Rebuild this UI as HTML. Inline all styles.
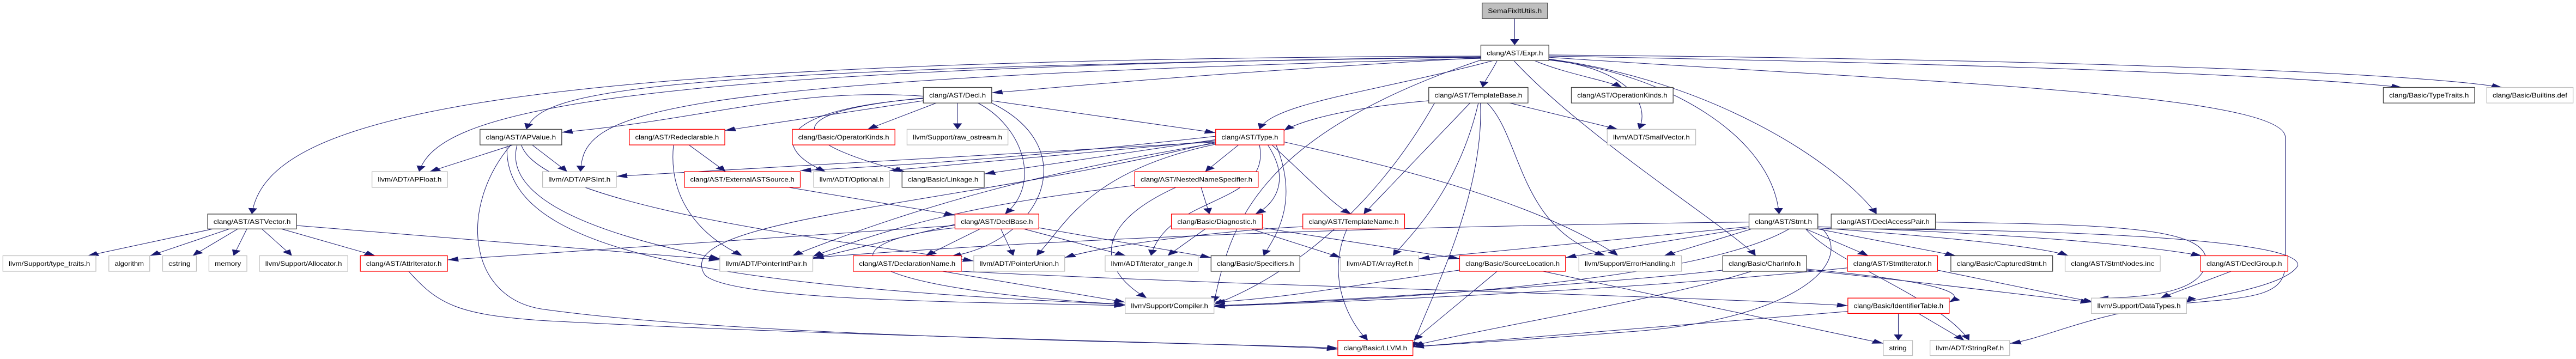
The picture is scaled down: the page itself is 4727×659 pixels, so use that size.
<!DOCTYPE html>
<html><head><meta charset="utf-8"><style>
html,body{margin:0;padding:0;background:#fff;}
svg{display:block;}
text{font-family:"Liberation Sans",Arial,sans-serif;font-size:28px;fill:#000;}
.n{fill:#fff;stroke-width:1.3;vector-effect:non-scaling-stroke;}
.k{stroke:#404040;} .r{stroke:#ff0000;} .g{stroke:#bfbfbf;}
.e path{fill:none;stroke:#191970;stroke-width:1;vector-effect:non-scaling-stroke;marker-end:url(#a);}
</style></head><body>
<svg width="4727" height="659" viewBox="0 0 6177 1568" preserveAspectRatio="none" xmlns="http://www.w3.org/2000/svg">
<defs><marker id="a" markerUnits="userSpaceOnUse" markerWidth="26" markerHeight="22" refX="24" refY="10" viewBox="0 0 24 20" orient="auto"><path d="M0,0 L24,10 L0,20 z" fill="#191970"/></marker></defs>
<g class="e">
<path d="M3632 81 L3632 197"/>
<path d="M3551 245 C1200 260 640 500 604 935"/>
<path d="M3551 250 C1500 300 1300 400 1262 565"/>
<path d="M3551 248 C1400 300 1050 500 1005 750"/>
<path d="M3551 255 C1500 350 1400 500 1392 750"/>
<path d="M3551 252 C2800 330 2500 390 2378 405"/>
<path d="M3590 265 C3575 320 3560 350 3555 382"/>
<path d="M3680 265 C3750 320 3850 350 3890 382"/>
<path d="M3714 260 C3900 300 3960 450 3930 565"/>
<path d="M3580 265 C3300 400 3050 450 3020 565"/>
<path d="M3714 262 C4000 320 4250 600 4266 935"/>
<path d="M3714 258 C4100 350 4400 700 4500 935"/>
<path d="M3714 245 C4800 280 5500 330 5760 382"/>
<path d="M3714 240 C5000 260 5800 320 6000 382"/>
<path d="M3630 265 C3800 600 4150 1000 4210 1117"/>
<path d="M3714 250 C4500 350 5480 400 5480 600 L5480 1150 C5480 1300 5400 1300 5200 1330 C5000 1380 4900 1480 4820 1500"/>
<path d="M3551 262 C3000 600 2950 1000 2911 1320"/>
<path d="M1230 633 L1030 750"/>
<path d="M1276 633 L1360 750"/>
<path d="M1240 633 C1200 900 1500 1050 1726 1130"/>
<path d="M1250 633 C1300 900 2000 1050 2335 1140"/>
<path d="M1225 633 C1100 900 1120 1300 1300 1350 C1800 1480 3000 1500 3208 1520"/>
<path d="M1216 633 C1200 1100 1700 1250 2698 1330"/>
<path d="M510 1000 L210 1117"/>
<path d="M550 1000 L360 1117"/>
<path d="M570 1000 L462 1117"/>
<path d="M592 1000 L560 1117"/>
<path d="M628 1000 L700 1117"/>
<path d="M675 1000 L900 1117"/>
<path d="M711 985 L1726 1135"/>
<path d="M980 1185 C1050 1330 1100 1375 1300 1400 C2000 1470 3000 1500 3208 1525"/>
<path d="M2214 440 L1738 570"/>
<path d="M2245 450 L2080 565"/>
<path d="M2296 450 L2296 565"/>
<path d="M2378 440 L2915 580"/>
<path d="M2214 430 C1850 480 1850 650 1980 750"/>
<path d="M2214 428 C1800 500 1950 650 2170 750"/>
<path d="M2345 450 C2450 550 2500 800 2410 935"/>
<path d="M2378 450 C2600 650 2500 1050 2280 1120"/>
<path d="M2214 420 C1900 380 1700 520 1347 578"/>
<path d="M1652 633 L1740 750"/>
<path d="M1615 633 C1600 900 1700 1050 1780 1117"/>
<path d="M1890 818 L2290 940"/>
<path d="M2290 980 L1949 1130"/>
<path d="M2350 1000 L2220 1117"/>
<path d="M2400 1000 L2430 1117"/>
<path d="M2455 1000 L2700 1117"/>
<path d="M2491 995 L2904 1125"/>
<path d="M2290 995 C2000 1050 1950 1250 2698 1330"/>
<path d="M2290 985 L1073 1135"/>
<path d="M2915 610 L2360 760"/>
<path d="M2915 615 L2133 745"/>
<path d="M2915 595 C2500 680 2200 720 1919 745"/>
<path d="M2915 620 L1478 770"/>
<path d="M2970 633 L2890 750"/>
<path d="M3040 633 C3100 800 3050 900 3010 935"/>
<path d="M3050 633 C3150 800 3200 900 3240 935"/>
<path d="M3060 633 C3120 900 3050 1050 3030 1117"/>
<path d="M3020 633 C3050 900 2800 850 2760 1117"/>
<path d="M2915 625 C2500 750 2200 900 1900 1117"/>
<path d="M2915 630 C2600 750 2550 1000 2485 1117"/>
<path d="M2915 620 C2300 900 1600 950 1690 1200 C1750 1320 2400 1320 2698 1335"/>
<path d="M3079 620 C3400 750 3700 900 3880 1117"/>
<path d="M2880 818 L2900 935"/>
<path d="M2820 818 C2600 1000 2650 1200 2750 1302"/>
<path d="M2721 810 C2400 880 2200 950 1949 1120"/>
<path d="M2890 1000 L2800 1117"/>
<path d="M3027 995 L3500 1130"/>
<path d="M3000 1000 L3215 1125"/>
<path d="M3124 990 C3000 1000 2700 1050 2553 1125"/>
<path d="M3230 1000 C3180 1200 3230 1400 3280 1487"/>
<path d="M3426 440 C3300 460 3150 500 3079 570"/>
<path d="M3525 450 L3270 935"/>
<path d="M3545 450 C3500 800 3400 1000 3340 1117"/>
<path d="M3566 450 C3650 600 3640 1000 3850 1117"/>
<path d="M3620 450 L3880 565"/>
<path d="M3550 450 C3560 900 3400 1400 3388 1520"/>
<path d="M3440 450 C3300 900 3100 1200 2911 1330"/>
<path d="M4194 990 L3402 1130"/>
<path d="M4194 995 L3754 1125"/>
<path d="M4200 1000 L3990 1117"/>
<path d="M4330 1000 L4480 1117"/>
<path d="M4359 1000 L4690 1117"/>
<path d="M4359 995 C4700 1040 4900 1080 4960 1117"/>
<path d="M4359 990 C4800 1020 5100 1060 5280 1117"/>
<path d="M4359 1000 C5000 1000 5520 1050 5510 1160 C5480 1260 5250 1310 5243 1320"/>
<path d="M4290 1000 C4100 1200 3500 1300 2911 1335"/>
<path d="M4370 1000 C4450 1150 4300 1400 3900 1450 C3700 1480 3500 1500 3388 1515"/>
<path d="M4194 970 C3200 990 2500 1050 1949 1125"/>
<path d="M4330 1000 C4400 1150 4650 1300 4722 1487"/>
<path d="M4641 970 C5100 980 5300 1000 5290 1150 C5280 1250 5200 1300 5030 1302"/>
<path d="M4131 1180 C3800 1250 3100 1320 2911 1340"/>
<path d="M4200 1185 C4000 1300 3600 1420 3388 1510"/>
<path d="M4332 1180 C4700 1250 4900 1300 5015 1320"/>
<path d="M4332 1175 C4650 1230 4720 1280 4674 1320"/>
<path d="M3500 1180 C3300 1230 3100 1300 2911 1320"/>
<path d="M3590 1185 L3390 1487"/>
<path d="M3700 1185 L4516 1500"/>
<path d="M4646 1180 L5020 1320"/>
<path d="M4430 1170 C4000 1250 3500 1300 2911 1338"/>
<path d="M5350 1185 L5180 1302"/>
<path d="M4552 1369 L4552 1487"/>
<path d="M4600 1369 L4710 1487"/>
<path d="M4431 1360 C4000 1420 3600 1480 3388 1515"/>
<path d="M2260 1185 L2698 1320"/>
<path d="M2305 1185 C3000 1250 4000 1290 4431 1335"/>
</g>
<g>
<rect class="n k" x="3554" y="13" width="157" height="68" style="fill:#bfbfbf"/><text x="3568" y="57" textLength="129" lengthAdjust="spacingAndGlyphs">SemaFixItUtils.h</text>
<rect class="n k" x="3551" y="197" width="163" height="68"/><text x="3565" y="241" textLength="135" lengthAdjust="spacingAndGlyphs">clang/AST/Expr.h</text>
<rect class="n k" x="2214" y="382" width="164" height="68"/><text x="2228" y="426" textLength="136" lengthAdjust="spacingAndGlyphs">clang/AST/Decl.h</text>
<rect class="n k" x="3426" y="382" width="238" height="68"/><text x="3440" y="426" textLength="210" lengthAdjust="spacingAndGlyphs">clang/AST/TemplateBase.h</text>
<rect class="n k" x="3768" y="382" width="244" height="68"/><text x="3782" y="426" textLength="216" lengthAdjust="spacingAndGlyphs">clang/AST/OperationKinds.h</text>
<rect class="n k" x="5715" y="382" width="219" height="68"/><text x="5729" y="426" textLength="191" lengthAdjust="spacingAndGlyphs">clang/Basic/TypeTraits.h</text>
<rect class="n g" x="5963" y="382" width="207" height="68"/><text x="5977" y="426" textLength="179" lengthAdjust="spacingAndGlyphs">clang/Basic/Builtins.def</text>
<rect class="n k" x="1151" y="565" width="196" height="68"/><text x="1165" y="609" textLength="168" lengthAdjust="spacingAndGlyphs">clang/AST/APValue.h</text>
<rect class="n r" x="1509" y="565" width="229" height="68"/><text x="1523" y="609" textLength="201" lengthAdjust="spacingAndGlyphs">clang/AST/Redeclarable.h</text>
<rect class="n r" x="1900" y="565" width="246" height="68"/><text x="1914" y="609" textLength="218" lengthAdjust="spacingAndGlyphs">clang/Basic/OperatorKinds.h</text>
<rect class="n g" x="2175" y="565" width="242" height="68"/><text x="2189" y="609" textLength="214" lengthAdjust="spacingAndGlyphs">llvm/Support/raw_ostream.h</text>
<rect class="n r" x="2915" y="565" width="164" height="68"/><text x="2929" y="609" textLength="136" lengthAdjust="spacingAndGlyphs">clang/AST/Type.h</text>
<rect class="n g" x="3854" y="565" width="212" height="68"/><text x="3868" y="609" textLength="184" lengthAdjust="spacingAndGlyphs">llvm/ADT/SmallVector.h</text>
<rect class="n g" x="892" y="750" width="181" height="68"/><text x="906" y="794" textLength="153" lengthAdjust="spacingAndGlyphs">llvm/ADT/APFloat.h</text>
<rect class="n g" x="1301" y="750" width="177" height="68"/><text x="1315" y="794" textLength="149" lengthAdjust="spacingAndGlyphs">llvm/ADT/APSInt.h</text>
<rect class="n r" x="1641" y="750" width="278" height="68"/><text x="1655" y="794" textLength="250" lengthAdjust="spacingAndGlyphs">clang/AST/ExternalASTSource.h</text>
<rect class="n g" x="1951" y="750" width="182" height="68"/><text x="1965" y="794" textLength="154" lengthAdjust="spacingAndGlyphs">llvm/ADT/Optional.h</text>
<rect class="n k" x="2163" y="750" width="197" height="68"/><text x="2177" y="794" textLength="169" lengthAdjust="spacingAndGlyphs">clang/Basic/Linkage.h</text>
<rect class="n r" x="2721" y="750" width="296" height="68"/><text x="2735" y="794" textLength="268" lengthAdjust="spacingAndGlyphs">clang/AST/NestedNameSpecifier.h</text>
<rect class="n k" x="498" y="935" width="213" height="65"/><text x="512" y="978" textLength="185" lengthAdjust="spacingAndGlyphs">clang/AST/ASTVector.h</text>
<rect class="n r" x="2290" y="935" width="201" height="65"/><text x="2304" y="978" textLength="173" lengthAdjust="spacingAndGlyphs">clang/AST/DeclBase.h</text>
<rect class="n r" x="2809" y="935" width="218" height="65"/><text x="2823" y="978" textLength="190" lengthAdjust="spacingAndGlyphs">clang/Basic/Diagnostic.h</text>
<rect class="n r" x="3124" y="935" width="244" height="65"/><text x="3138" y="978" textLength="216" lengthAdjust="spacingAndGlyphs">clang/AST/TemplateName.h</text>
<rect class="n k" x="4194" y="935" width="165" height="65"/><text x="4208" y="978" textLength="137" lengthAdjust="spacingAndGlyphs">clang/AST/Stmt.h</text>
<rect class="n k" x="4391" y="935" width="250" height="65"/><text x="4405" y="978" textLength="222" lengthAdjust="spacingAndGlyphs">clang/AST/DeclAccessPair.h</text>
<rect class="n g" x="7" y="1117" width="223" height="68"/><text x="21" y="1161" textLength="195" lengthAdjust="spacingAndGlyphs">llvm/Support/type_traits.h</text>
<rect class="n g" x="261" y="1117" width="98" height="68"/><text x="275" y="1161" textLength="70" lengthAdjust="spacingAndGlyphs">algorithm</text>
<rect class="n g" x="390" y="1117" width="81" height="68"/><text x="404" y="1161" textLength="53" lengthAdjust="spacingAndGlyphs">cstring</text>
<rect class="n g" x="501" y="1117" width="91" height="68"/><text x="515" y="1161" textLength="63" lengthAdjust="spacingAndGlyphs">memory</text>
<rect class="n g" x="622" y="1117" width="212" height="68"/><text x="636" y="1161" textLength="184" lengthAdjust="spacingAndGlyphs">llvm/Support/Allocator.h</text>
<rect class="n r" x="864" y="1117" width="209" height="68"/><text x="878" y="1161" textLength="181" lengthAdjust="spacingAndGlyphs">clang/AST/AttrIterator.h</text>
<rect class="n g" x="1726" y="1117" width="223" height="68"/><text x="1740" y="1161" textLength="195" lengthAdjust="spacingAndGlyphs">llvm/ADT/PointerIntPair.h</text>
<rect class="n r" x="2046" y="1117" width="259" height="68"/><text x="2060" y="1161" textLength="231" lengthAdjust="spacingAndGlyphs">clang/AST/DeclarationName.h</text>
<rect class="n g" x="2335" y="1117" width="218" height="68"/><text x="2349" y="1161" textLength="190" lengthAdjust="spacingAndGlyphs">llvm/ADT/PointerUnion.h</text>
<rect class="n g" x="2650" y="1117" width="223" height="68"/><text x="2664" y="1161" textLength="195" lengthAdjust="spacingAndGlyphs">llvm/ADT/iterator_range.h</text>
<rect class="n k" x="2904" y="1117" width="213" height="68"/><text x="2918" y="1161" textLength="185" lengthAdjust="spacingAndGlyphs">clang/Basic/Specifiers.h</text>
<rect class="n g" x="3215" y="1117" width="187" height="68"/><text x="3229" y="1161" textLength="159" lengthAdjust="spacingAndGlyphs">llvm/ADT/ArrayRef.h</text>
<rect class="n r" x="3500" y="1117" width="254" height="68"/><text x="3514" y="1161" textLength="226" lengthAdjust="spacingAndGlyphs">clang/Basic/SourceLocation.h</text>
<rect class="n g" x="3786" y="1117" width="246" height="68"/><text x="3800" y="1161" textLength="218" lengthAdjust="spacingAndGlyphs">llvm/Support/ErrorHandling.h</text>
<rect class="n k" x="4131" y="1117" width="201" height="68"/><text x="4145" y="1161" textLength="173" lengthAdjust="spacingAndGlyphs">clang/Basic/CharInfo.h</text>
<rect class="n r" x="4430" y="1117" width="216" height="68"/><text x="4444" y="1161" textLength="188" lengthAdjust="spacingAndGlyphs">clang/AST/StmtIterator.h</text>
<rect class="n k" x="4678" y="1117" width="244" height="68"/><text x="4692" y="1161" textLength="216" lengthAdjust="spacingAndGlyphs">clang/Basic/CapturedStmt.h</text>
<rect class="n g" x="4952" y="1117" width="228" height="68"/><text x="4966" y="1161" textLength="200" lengthAdjust="spacingAndGlyphs">clang/AST/StmtNodes.inc</text>
<rect class="n r" x="5277" y="1117" width="209" height="68"/><text x="5291" y="1161" textLength="181" lengthAdjust="spacingAndGlyphs">clang/AST/DeclGroup.h</text>
<rect class="n g" x="2698" y="1302" width="213" height="67"/><text x="2712" y="1346" textLength="185" lengthAdjust="spacingAndGlyphs">llvm/Support/Compiler.h</text>
<rect class="n r" x="4431" y="1302" width="243" height="67"/><text x="4445" y="1346" textLength="215" lengthAdjust="spacingAndGlyphs">clang/Basic/IdentifierTable.h</text>
<rect class="n g" x="5015" y="1302" width="228" height="67"/><text x="5029" y="1346" textLength="200" lengthAdjust="spacingAndGlyphs">llvm/Support/DataTypes.h</text>
<rect class="n r" x="3208" y="1487" width="180" height="66"/><text x="3222" y="1530" textLength="152" lengthAdjust="spacingAndGlyphs">clang/Basic/LLVM.h</text>
<rect class="n g" x="4516" y="1487" width="70" height="66"/><text x="4530" y="1530" textLength="42" lengthAdjust="spacingAndGlyphs">string</text>
<rect class="n g" x="4628" y="1487" width="191" height="66"/><text x="4642" y="1530" textLength="163" lengthAdjust="spacingAndGlyphs">llvm/ADT/StringRef.h</text>
</g>
</svg>
</body></html>
